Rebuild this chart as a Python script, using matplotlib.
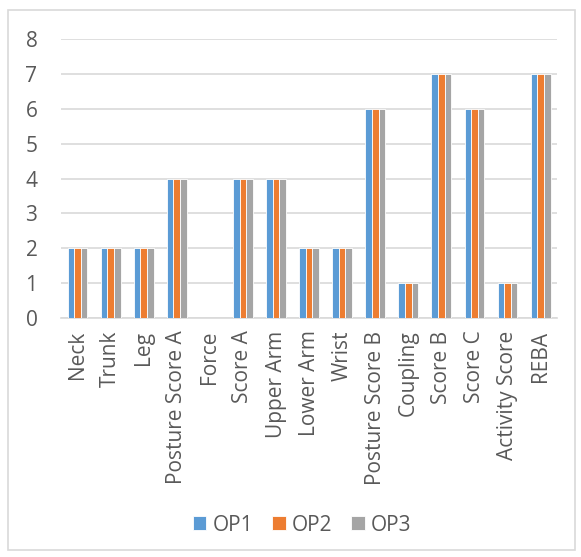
import numpy as np
import matplotlib
matplotlib.use("Agg")
import matplotlib.pyplot as plt
from matplotlib.patches import Rectangle

categories = ["Neck", "Trunk", "Leg", "Posture Score A", "Force", "Score A",
              "Upper Arm", "Lower Arm", "Wrist", "Posture Score B", "Coupling",
              "Score B", "Score C", "Activity Score", "REBA"]
op1 = [2, 2, 2, 4, 0, 4, 4, 2, 2, 6, 1, 7, 6, 1, 7]
op2 = [2, 2, 2, 4, 0, 4, 4, 2, 2, 6, 1, 7, 6, 1, 7]
op3 = [2, 2, 2, 4, 0, 4, 4, 2, 2, 6, 1, 7, 6, 1, 7]
series = {"OP1": op1, "OP2": op2, "OP3": op3}
colors = ["#5b9bd5", "#ed7d31", "#a5a5a5"]

plt.rcParams["font.family"] = ["Open Sans", "DejaVu Sans"]
TXT = "#595959"
FS = 15

fig = plt.figure(figsize=(5.81, 5.57), dpi=100)
ax = fig.add_axes([0.105, 0.429, 0.854, 0.501])

x = np.arange(len(categories))
w = 0.2
for i, (name, vals) in enumerate(series.items()):
    ax.bar(x + (i - 1) * w, vals, w, color=colors[i], edgecolor="white",
           linewidth=0.6, label=name, zorder=3)

ax.set_xlim(-0.5, len(categories) - 0.5)
ax.set_ylim(0, 8)
ax.set_yticks(range(0, 9))
ax.yaxis.grid(True, color="#d9d9d9", linewidth=1.2, zorder=0)
ax.set_xticks(x)
ax.set_xticklabels(categories, rotation=90, fontsize=FS, color=TXT)
ax.tick_params(axis="y", labelsize=FS, labelcolor=TXT, length=0, pad=17)
ax.tick_params(axis="x", length=0, pad=9)
for s in ["top", "right", "left"]:
    ax.spines[s].set_visible(False)
ax.spines["bottom"].set_color("#d9d9d9")
ax.spines["bottom"].set_linewidth(1.2)

fig.legend(loc="center", bbox_to_anchor=(0.52, 0.057), ncol=3, frameon=False,
           fontsize=FS, labelcolor=TXT, handlelength=0.65, handleheight=0.65,
           handletextpad=0.3, columnspacing=0.9)

fig.patches.append(Rectangle((8 / 581, 7 / 557), 567 / 581, 540 / 557,
                             transform=fig.transFigure, fill=False,
                             edgecolor="#d9d9d9", linewidth=1.2))

fig.savefig("out.png", dpi=100)
